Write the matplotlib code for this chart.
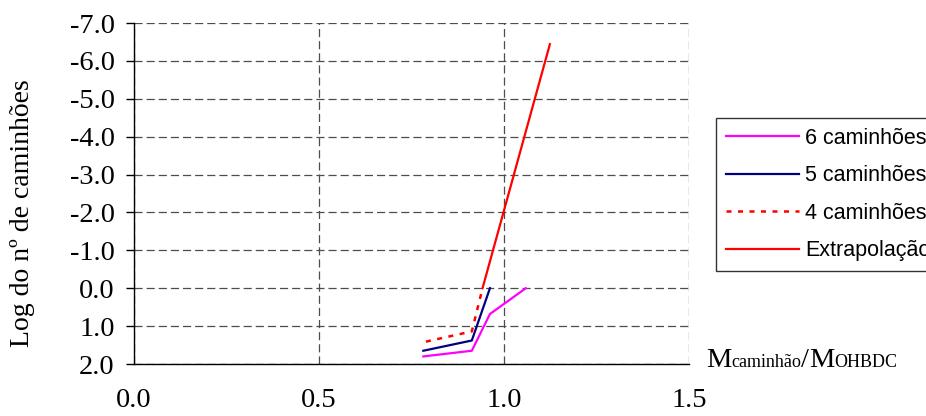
import matplotlib
matplotlib.use("Agg")
import matplotlib.pyplot as plt
from matplotlib.ticker import FormatStrFormatter

# Data
x6 = [0.782, 0.913, 0.962, 1.059]
y6 = [1.80, 1.65, 0.68, 0.0]
x5 = [0.782, 0.913, 0.962]
y5 = [1.65, 1.38, 0.0]
x4 = [0.789, 0.913, 0.942]
y4 = [1.41, 1.14, 0.0]
xe = [0.942, 1.124]
ye = [0.0, -6.44]
labels = ["6 caminhões", "5 caminhões", "4 caminhões", "Extrapolação"]
xticks = [0.0, 0.5, 1.0, 1.5]
yticks = [2.0, 1.0, 0.0, -1.0, -2.0, -3.0, -4.0, -5.0, -6.0, -7.0]

W, H = 926, 416
fig = plt.figure(figsize=(W / 100, H / 100), dpi=100)
L, R, T, B = 134, 689, 23, 364
ax = fig.add_axes([L / W, 1 - B / H, (R - L) / W, (B - T) / H])

serif = "Liberation Serif"
sans = "Liberation Sans"

ax.plot(x6, y6, color="#FF00FF", lw=1.6, label=labels[0])
ax.plot(x5, y5, color="#000080", lw=1.6, label=labels[1])
ax.plot(x4, y4, color="#FF0000", lw=1.8, linestyle=(0, (2.0, 2.6)), label=labels[2])
ax.plot(xe, ye, color="#FF0000", lw=1.6, label=labels[3])

ax.set_xlim(0, 1.5)
ax.set_ylim(2.0, -7.0)
ax.set_xticks(xticks)
ax.set_yticks(yticks)
ax.yaxis.set_major_formatter(FormatStrFormatter("%.1f"))
ax.xaxis.set_major_formatter(FormatStrFormatter("%.1f"))

ax.grid(True, color="#4d4d4d", linestyle=(0, (6.5, 3.2)), linewidth=0.9)
ax.set_axisbelow(True)
for s in ["top", "right"]:
    ax.spines[s].set_visible(False)
for s in ["left", "bottom"]:
    ax.spines[s].set_color("black")
    ax.spines[s].set_linewidth(1.0)

ax.tick_params(axis="x", length=0, pad=17, labelsize=20.5)
ax.tick_params(axis="y", length=6, width=1.0, direction="out", pad=8, labelsize=20.5)
for lbl in ax.get_xticklabels() + ax.get_yticklabels():
    lbl.set_fontfamily(serif)

fig.text(23 / W, 1 - 213.5 / H, "Log do nº de caminhões", rotation=90,
         ha="center", va="center", fontsize=20, family=serif)

leg = fig.legend(loc="upper left", bbox_to_anchor=(716 / W, 1 - 118 / H),
                 bbox_transform=fig.transFigure, borderaxespad=0,
                 prop={"family": sans, "size": 15.5}, handlelength=3.4,
                 handletextpad=0.3, labelspacing=0.77, frameon=True,
                 fancybox=False, shadow=False, borderpad=0.45)
leg.get_frame().set_edgecolor("black")
leg.get_frame().set_linewidth(1.0)

# x-axis label with small text pieces on the same baseline
fig.canvas.draw()
renderer = fig.canvas.get_renderer()
pieces = [("M", 20.5), ("caminhão", 13), ("/", 20.5), ("M", 20.5), ("OHBDC", 13)]
xpos = 706
base_y = 1 - 367 / H
for txt, sz in pieces:
    t = fig.text(xpos / W, base_y, txt, fontsize=sz, family=serif,
                 ha="left", va="baseline")
    bb = t.get_window_extent(renderer)
    xpos += bb.width

fig.savefig("out.png", dpi=100)
